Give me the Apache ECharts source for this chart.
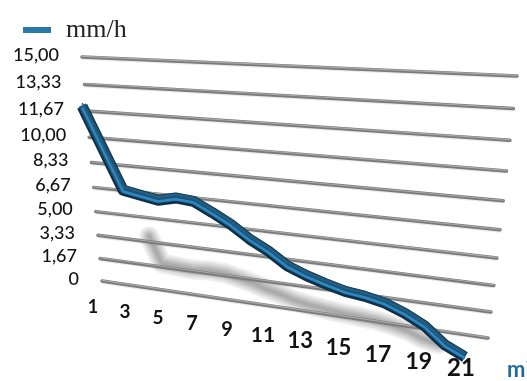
<!DOCTYPE html>
<html><head><meta charset="utf-8">
<script src="https://cdn.jsdelivr.net/npm/echarts@6/dist/echarts.min.js"></script>
<style>html,body{margin:0;padding:0;background:#fff}#c{width:527px;height:381px}</style>
</head><body><div id="c"></div>
<script>
// ---------- data ----------
var categories = ['1','2','3','4','5','6','7','8','9','10','11','12','13','14','15','16','17','18','19','20','21'];
var rainValues = [12.4, 10.0, 7.6, 7.4, 7.2, 7.45, 7.35, 6.8, 6.2, 5.45, 4.85, 4.1, 3.65, 3.3, 3.0, 2.85, 2.6, 2.15, 1.55, 0.6, 0.05];
var yTicks = [0, 5/3, 10/3, 5, 20/3, 25/3, 10, 35/3, 40/3, 15];
var yTickLabels = ['0', '1,67', '3,33', '5,00', '6,67', '8,33', '10,00', '11,67', '13,33', '15,00'];
var seriesName = 'mm/h';
var xUnitLabel = 'min';

// ---------- perspective helpers (layout only) ----------
function quad(x0,y0,x1,y1,x2,y2,x3,y3){
  var sx=x0-x1+x2-x3, sy=y0-y1+y2-y3, dx1=x1-x2, dx2=x3-x2, dy1=y1-y2, dy2=y3-y2;
  var den=dx1*dy2-dx2*dy1, g=(sx*dy2-dx2*sy)/den, h=(dx1*sy-sx*dy1)/den;
  var a=x1-x0+g*x1, b=x3-x0+h*x3, c=x0, d=y1-y0+g*y1, e=y3-y0+h*y3, f=y0;
  return function(s,t){ var w=g*s+h*t+1; return [(a*s+b*t+c)/w,(d*s+e*t+f)/w]; };
}
var WALL = quad(102,281, 488,338, 517,76, 82,57);
var VP = [70,30], DEPTH = 1.09, S_FIRST = -0.013, S_LAST = 0.875;
function front(u,t){
  var s = S_FIRST + u*(S_LAST-S_FIRST), p = WALL(s,t);
  return [VP[0]+DEPTH*(p[0]-VP[0]), VP[1]+DEPTH*(p[1]-VP[1])];
}
function shadowPt(u,t){
  var s = S_FIRST + u*(S_LAST-S_FIRST) + 0.18*t + 0.015;
  return WALL(s, 0.372*t - 0.06);
}
function labelPt(u){
  var x = (302.8*u + 93)/(1 - 0.1414*u);
  return [x, 307 + (x-93)*0.166];
}
function norm(api, params, val){
  var p = api.coord(val), cs = params.coordSys;
  return [(p[0]-cs.x)/cs.width, (cs.y+cs.height-p[1])/cs.height];
}
function shift(pts, dx, dy){ return pts.map(function(p){ return [p[0]+dx, p[1]+dy]; }); }

var lineData = rainValues.map(function(v,i){ return [i, v]; });

var chart = echarts.init(document.getElementById('c'), null, {renderer:'canvas'});
chart.setOption({
  animation: false,
  backgroundColor: '#ffffff',
  grid: {left: 0, right: 0, top: 0, bottom: 0},
  xAxis: {type: 'category', data: categories, boundaryGap: false, show: false},
  yAxis: {type: 'value', min: 0, max: 15, show: false},
  legend: {
    left: 18, top: 12, icon: 'rect', itemWidth: 28, itemHeight: 6,
    data: [seriesName],
    textStyle: {fontFamily: 'Liberation Serif', fontSize: 26, color: '#222', padding: [0,0,0,10]}
  },
  graphic: [{
    type: 'text', left: 507, top: 359,
    style: {text: xUnitLabel, fill: '#1f6c96', font: 'bold 22px Lato'}
  }],
  series: [
    { // cast shadow on the wall
      type: 'custom', name: 'shadow', z: 1, silent: true,
      data: lineData,
      renderItem: function(params, api){
        if (params.dataIndex !== 0) return;
        var pts = rainValues.map(function(v,i){ var n = norm(api, params, [i, v]); return shadowPt(n[0], n[1]); });
        var widths = [20, 16, 12, 9, 6, 3], kids = [];
        widths.forEach(function(w){
          kids.push({type:'polyline', shape:{points: pts}, style:{stroke:'rgba(60,60,60,0.085)', lineWidth:w, fill:null, lineJoin:'round', lineCap:'round'}});
        });
        return {type:'group', children: kids};
      }
    },
    { // wall gridlines + value labels
      type: 'custom', name: 'grid', z: 2, silent: true,
      data: yTicks.map(function(t){ return [0, t]; }),
      renderItem: function(params, api){
        var n = norm(api, params, [0, api.value(1)]), t = n[1];
        var a = WALL(0, t), b = WALL(1, t);
        return {type:'group', children:[
          {type:'line', shape:{x1:a[0], y1:a[1]+1.5, x2:b[0], y2:b[1]+1.5}, style:{stroke:'rgba(0,0,0,0.08)', lineWidth:3}},
          {type:'line', shape:{x1:a[0], y1:a[1], x2:b[0], y2:b[1]}, style:{stroke:'#7a7a7a', lineWidth:3.5, lineCap:'round'}},
          {type:'line', shape:{x1:a[0], y1:a[1]-0.6, x2:b[0], y2:b[1]-0.6}, style:{stroke:'#aaaaaa', lineWidth:1.1, lineCap:'round'}},
          {type:'text', style:{text: yTickLabels[params.dataIndex], x: a[0]-23, y: a[1]-2, align:'right', verticalAlign:'middle', fill:'#121212', font:'500 18px Lato'}}
        ]};
      }
    },
    { // the rain-rate ribbon
      type: 'custom', name: seriesName, z: 3, silent: true,
      itemStyle: {color: '#2a7aa6'},
      data: lineData,
      renderItem: function(params, api){
        if (params.dataIndex !== 0) return;
        var pts = rainValues.map(function(v,i){ var n = norm(api, params, [i, v]); return front(n[0], n[1]); });
        return {type:'group', children:[
          {type:'polyline', shape:{points: shift(pts,0,1)}, style:{stroke:'#0f2f45', lineWidth:11, fill:null, lineJoin:'round', lineCap:'butt'}},
          {type:'polyline', shape:{points: shift(pts,0,0)}, style:{stroke:'#1d5274', lineWidth:8, fill:null, lineJoin:'round', lineCap:'butt'}},
          {type:'polyline', shape:{points: shift(pts,0,2.2)}, style:{stroke:'#2b88c2', lineWidth:2.6, fill:null, lineJoin:'round', lineCap:'butt'}},
          {type:'polyline', shape:{points: shift(pts,0,-2.2)}, style:{stroke:'#256288', lineWidth:1.6, fill:null, lineJoin:'round', lineCap:'butt'}}
        ]};
      }
    },
    { // category labels along the floor
      type: 'custom', name: 'xlabels', z: 4, silent: true,
      data: categories.map(function(c,i){ return [i, 0]; }),
      renderItem: function(params, api){
        var i = params.dataIndex;
        if (i % 2 !== 0) return;
        var n = norm(api, params, [api.value(0), 0]), p = labelPt(n[0]);
        var fs = Math.round(18 + 6*n[0]);
        return {type:'text', style:{text: categories[i], x: p[0], y: p[1], align:'center', verticalAlign:'middle', fill:'#121212', font: 'bold ' + fs + 'px Lato'}};
      }
    }
  ]
});
</script></body></html>
